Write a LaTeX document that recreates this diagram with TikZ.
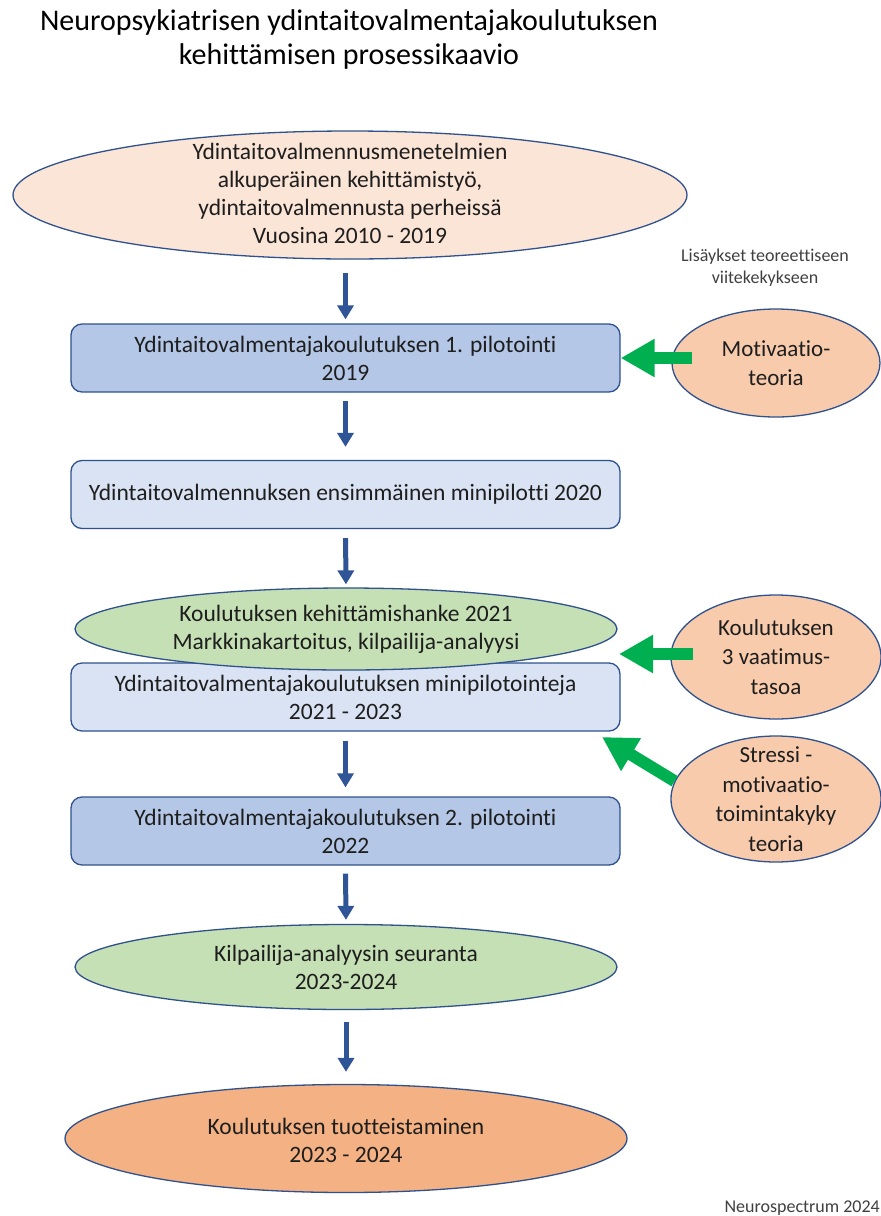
\documentclass[tikz,border=0pt]{standalone}
\usepackage{fontspec}
\setmainfont{Carlito}[Ligatures=NoCommon]
\usetikzlibrary{shapes.geometric,arrows.meta}

\definecolor{edge}{HTML}{2F528F}
\definecolor{peachlight}{HTML}{FBE5D6}
\definecolor{bluemid}{HTML}{B4C7E7}
\definecolor{bluelight}{HTML}{DAE3F3}
\definecolor{greenlight}{HTML}{C5E0B4}
\definecolor{orangemid}{HTML}{F4B183}
\definecolor{peach}{HTML}{F8CBAD}
\definecolor{flowblue}{HTML}{2F5597}
\definecolor{addgreen}{HTML}{00B050}
\definecolor{ink}{HTML}{1E1E1E}

\tikzset{
  oval/.style={ellipse, draw=edge, line width=1.3pt, inner sep=0pt},
  stagebox/.style={rectangle, rounded corners=11pt, draw=edge, line width=1.3pt,
    minimum width=549pt, minimum height=68pt, inner sep=0pt,
    align=center, text=ink, font=\fontsize{23.5}{28}\selectfont},
  ovaltext/.style={align=center, text=ink, inner sep=0pt, font=\fontsize{23.5}{28}\selectfont},
  sidetext/.style={align=center, text=ink, inner sep=0pt, font=\fontsize{23}{29.5}\selectfont},
  flow/.style={draw=flowblue, line width=5pt, -{Triangle[width=16pt,length=14pt]}},
  addition/.style={draw=addgreen, line width=12pt, -{Triangle[width=36pt,length=34pt]}},
  smalltext/.style={align=center, text=black!75, inner sep=0pt, font=\fontsize{18}{22}\selectfont}
}

\begin{document}
\begin{tikzpicture}[x=1pt, y=-1pt]
  \path[use as bounding box, fill=white] (0,0) rectangle (881,1216);

  % heading
  \node[align=center, inner sep=0pt, font=\fontsize{30}{34}\selectfont] (title) at (349,39)
    {Neuropsykiatrisen ydintaitovalmentajakoulutuksen\\kehittämisen prosessikaavio};

  % main column of stages
  \node[oval, fill=peachlight, minimum width=674pt, minimum height=128pt] (top) at (350,195) {};
  \node[ovaltext] (toptext) at ([yshift=2pt]top.center)
    {Ydintaitovalmennusmenetelmien\\alkuperäinen kehittämistyö,\\ydintaitovalmennusta perheissä\\Vuosina 2010 - 2019};

  \node[stagebox, fill=bluemid] (box1) at (345.5,358)
    {Ydintaitovalmentajakoulutuksen 1. pilotointi\\2019};
  \node[stagebox, fill=bluelight] (box2) at (345.5,494.5)
    {Ydintaitovalmennuksen ensimmäinen minipilotti 2020};
  \node[stagebox, fill=bluelight] (box3) at (345.5,697)
    {\raisebox{-5pt}{\parbox{540pt}{\centering Ydintaitovalmentajakoulutuksen minipilotointeja\\2021 - 2023}}};
  \node[oval, fill=greenlight, minimum width=542pt, minimum height=82pt] (hanke) at (346,629) {};
  \node[ovaltext] (hanketext) at (hanke.center)
    {Koulutuksen kehittämishanke 2021\\Markkinakartoitus, kilpailija-analyysi};
  \node[stagebox, fill=bluemid] (box4) at (345.5,831)
    {Ydintaitovalmentajakoulutuksen 2. pilotointi\\2022};
  \node[oval, fill=greenlight, minimum width=542pt, minimum height=85pt] (seuranta) at (346,967) {};
  \node[ovaltext] (seurantatext) at (seuranta.center)
    {Kilpailija-analyysin seuranta\\2023-2024};
  \node[oval, fill=orangemid, minimum width=562pt, minimum height=108pt] (tuote) at (346,1138.5) {};
  \node[ovaltext] (tuotetext) at ([yshift=-1.5pt]tuote.center)
    {Koulutuksen tuotteistaminen\\2023 - 2024};

  % flow arrows
  \draw[flow, shorten <=13pt, shorten >=4pt] (top.south -| box1.north) -- (box1.north);
  \draw[flow, shorten <=8pt, shorten >=13pt] (box1.south) -- (box2.north);
  \draw[flow, shorten <=9pt, shorten >=3pt] (box2.south) -- (hanke.north);
  \draw[flow, shorten <=9pt, shorten >=9pt] (box3.south) -- (box4.north);
  \draw[flow, shorten <=8pt, shorten >=4pt] (box4.south) -- (seuranta.north);
  \draw[flow, shorten <=12pt, shorten >=12pt] (seuranta.south) -- (tuote.north);

  % theoretical additions
  \node[smalltext] (lisays) at (765,268) {Lisäykset teoreettiseen\\viitekekykseen};

  \node[oval, fill=peach, minimum width=208pt, minimum height=108pt] (motiv) at (776,363) {};
  \node[sidetext] (motivtext) at (motiv.center) {Motivaatio-\\teoria};

  \node[oval, fill=peach, minimum width=210pt, minimum height=124pt] (vaatimus) at (776,657) {};
  \node[sidetext] (vaatimustext) at (vaatimus.center) {Koulutuksen\\3 vaatimus-\\tasoa};

  \node[oval, fill=peach, minimum width=210pt, minimum height=126pt] (stressi) at (776,799) {};
  \node[sidetext] (stressitext) at (stressi.center) {Stressi -\\motivaatio-\\toimintakyky\\teoria};

  \coordinate (tipvaat) at (619,654);
  \coordinate (tipstress) at (602,737);

  \draw[addition, shorten <=-21pt] (motiv.west |- box1.east) -- (box1.east);
  \draw[addition, shorten <=-23pt] (vaatimus.west |- tipvaat) -- (tipvaat);
  \draw[addition] (stressi.170) -- (tipstress);

  % credit
  \node[anchor=east, inner sep=0pt, text=black!75, font=\fontsize{18}{20}\selectfont] (credit) at (880,1208)
    {Neurospectrum 2024};
\end{tikzpicture}
\end{document}
